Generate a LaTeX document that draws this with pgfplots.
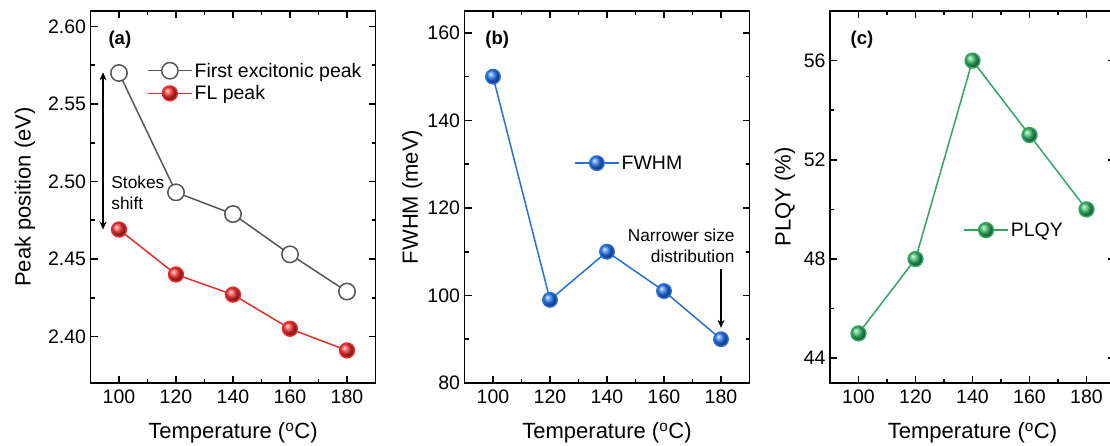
\documentclass[border=0pt]{standalone}
\usepackage{fontspec}
\setmainfont{Liberation Sans}
\usepackage{pgfplots}
\pgfplotsset{compat=1.18}
\usetikzlibrary{arrows.meta}

\definecolor{exgray}{RGB}{85,85,85}
\definecolor{flred}{RGB}{230,45,45}
\definecolor{fwblue}{RGB}{40,110,215}
\definecolor{qygreen}{RGB}{50,165,95}
\definecolor{flball}{RGB}{250,50,50}
\definecolor{fwball}{RGB}{40,120,245}
\definecolor{qyball}{RGB}{55,190,105}

\pgfplotsset{
  panel/.style={
    scale only axis, width=285pt, height=372pt,
    xmin=90, xmax=190, xtick={100,120,...,180}, minor x tick num=1,
    minor y tick num=1,
    tick align=inside, major tick length=7pt, minor tick length=4pt,
    axis line style={line width=1.6pt},
    tick style={line width=1.6pt, black},
    /pgf/number format/assume math mode=true,
    tick label style={font=\fontsize{19.5}{23}\selectfont},
    xticklabel style={yshift=-3.5pt},
    yticklabel style={xshift=-1pt},
    label style={font=\fontsize{22}{26}\selectfont},
    xlabel={Temperature (\textsuperscript{o}C)},
    xlabel style={at={(axis description cs:0.5,-0.134)}, anchor=center},
    legend style={draw=none, fill=none, inner sep=0pt,
      font=\fontsize{19.5}{23}\selectfont, row sep=3pt,
      cells={anchor=west}},
    legend image code/.code={\draw[mark repeat=2,mark phase=2]
      plot coordinates {(0pt,0pt)(22pt,0pt)(44pt,0pt)};},
  },
}
\tikzset{
  lbl/.style={font=\fontsize{18.5}{22}\selectfont\bfseries, anchor=west},
  note/.style={font=\fontsize{17.3}{21}\selectfont},
}

\begin{document}
\begin{tikzpicture}

% (a) peak positions
\begin{axis}[panel, at={(90.5pt,63pt)}, anchor=south west,
  ymin=2.37, ymax=2.61, ytick={2.40,2.45,...,2.61},
  yticklabel style={/pgf/number format/.cd, fixed, fixed zerofill, precision=2},
  ylabel={Peak position (eV)},
  ylabel style={at={(axis description cs:-0.2298,0.5)}, anchor=center},
  legend style={at={(0.198,0.809)}, anchor=west}]
\addplot[exgray, line width=1.5pt, mark=*, mark size=8.2pt,
  mark options={fill=white, draw=exgray, line width=1.5pt}]
  coordinates {(100,2.570)(120,2.493)(140,2.479)(160,2.453)(180,2.429)};
\addlegendentry{First excitonic peak}
\addplot[flred, line width=1.5pt, mark=ball, mark size=7.4pt,
  mark options={ball color=flball}]
  coordinates {(100,2.469)(120,2.440)(140,2.427)(160,2.405)(180,2.391)};
\addlegendentry{FL peak}
\draw[{Stealth[length=8pt,width=7pt]}-{Stealth[length=8pt,width=7pt]}, line width=1.3pt]
  (axis cs:94.4,2.5704) -- (axis cs:94.4,2.469);
\node[note, anchor=west, align=left] at (axis cs:96.1,2.4926) {Stokes\\shift};
\node[lbl] at (rel axis cs:0.051,0.922) {(a)};
\end{axis}

% (b) FWHM
\begin{axis}[panel, at={(464.5pt,63pt)}, anchor=south west,
  ymin=80, ymax=165, ytick={80,100,...,160},
  ylabel={FWHM (meV)},
  ylabel style={at={(axis description cs:-0.184,0.5)}, anchor=center},
  legend style={at={(0.384,0.591)}, anchor=west}]
\addplot[fwblue, line width=1.5pt, mark=ball, mark size=7.2pt,
  mark options={ball color=fwball}]
  coordinates {(100,150)(120,99)(140,110)(160,101)(180,90)};
\addlegendentry{FWHM}
\draw[-{Stealth[length=8pt,width=7pt]}, line width=1.3pt]
  (axis cs:180,106.1) -- (axis cs:180,92.6);
\node[note, anchor=east, align=right] at (axis cs:186,111.4) {Narrower size\\distribution};
\node[lbl] at (rel axis cs:0.061,0.922) {(b)};
\end{axis}

% (c) PLQY
\begin{axis}[panel, at={(830pt,63pt)}, anchor=south west,
  ymin=43, ymax=58, ytick={44,48,...,56},
  ylabel={PLQY (\%)},
  ylabel style={at={(axis description cs:-0.158,0.5)}, anchor=center},
  legend style={at={(0.467,0.411)}, anchor=west}]
\addplot[qygreen, line width=1.5pt, mark=ball, mark size=7.4pt,
  mark options={ball color=qyball}]
  coordinates {(100,45)(120,48)(140,56)(160,53)(180,50)};
\addlegendentry{PLQY}
\node[lbl] at (rel axis cs:0.06,0.922) {(c)};
\end{axis}

\pgfresetboundingbox
\path[use as bounding box] (0pt,0pt) rectangle (1110pt,446pt);
\end{tikzpicture}
\end{document}
